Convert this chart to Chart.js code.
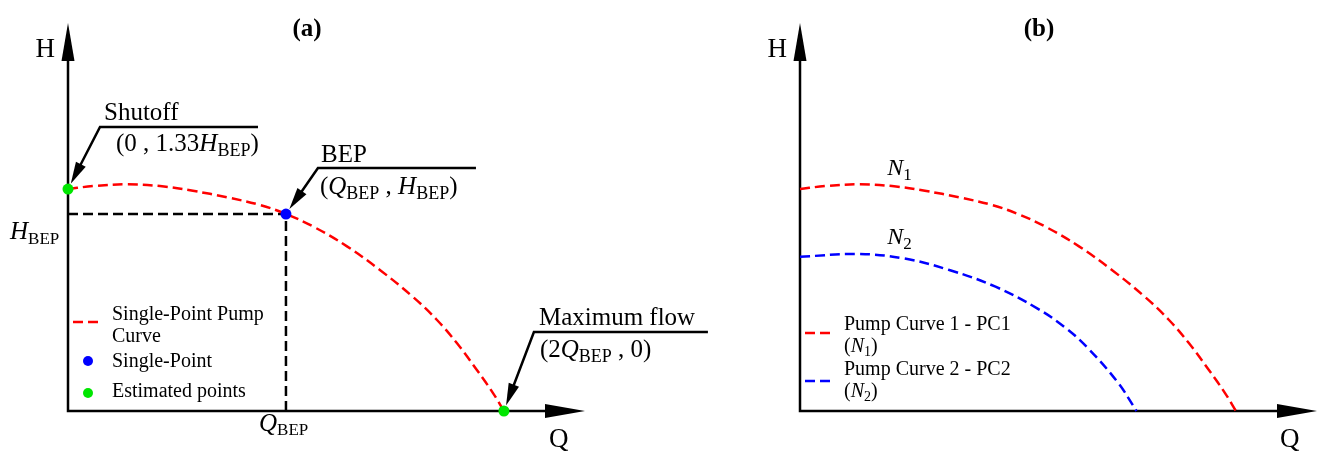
<!DOCTYPE html>
<html>
<head>
<meta charset="utf-8">
<script src="https://cdn.jsdelivr.net/npm/chart.js@4.4.1/dist/chart.umd.min.js"></script>
<style>
    html, body { margin: 0; padding: 0; background: #fff; }
    #wrap { position: relative; width: 1319px; height: 453px; }
    #boxA { position: absolute; left: 0; top: 0; width: 720px; height: 453px; }
    #boxB { position: absolute; left: 720px; top: 0; width: 599px; height: 453px; }
</style>
</head>
<body>
<div id="wrap">
    <div id="boxA"><canvas id="chartA"></canvas></div>
    <div id="boxB"><canvas id="chartB"></canvas></div>
</div>
<script>
// Q in units of Q_BEP, H in units of H_BEP
const curveQ = [0, 0.115, 0.271, 0.422, 0.573, 0.729, 0.881, 1.0, 1.124, 1.280, 1.431, 1.583, 1.693, 1.784, 1.876, 1.950, 2.0];
const curveH = [1.127, 1.142, 1.151, 1.142, 1.118, 1.085, 1.046, 1.0, 0.937, 0.836, 0.716, 0.579, 0.462, 0.345, 0.208, 0.091, 0];
const bepQ = [1];
const bepH = [1];
const estQ = [0, 2];
const estH = [1.127, 0];
// panel (b): PC1 is the same curve as in (a)
const pc1Q = curveQ;
const pc1H = curveH;
const pc2Q = [0, 0.265, 0.475, 0.685, 0.897, 1.09, 1.215, 1.316, 1.456, 1.544];
const pc2H = [0.783, 0.797, 0.775, 0.716, 0.631, 0.52, 0.425, 0.325, 0.148, 0];
const qMax = 2.372;
const hMax = 1.97;

const FONT = '"Liberation Serif", "Times New Roman", serif';
const RED = '#ff0000', BLUE = '#0000ff', GREEN = '#00e600';

function pts(xs, ys) {
    return xs.map((x, i) => ({ x: x, y: ys[i] }));
}

function runs(ctx, x, y, parts) {
    parts.forEach(p => {
        ctx.font = (p.i ? 'italic ' : '') + (p.b ? 'bold ' : '') + p.s + 'px ' + FONT;
        ctx.fillText(p.t, x, y + (p.dy || 0));
        x += ctx.measureText(p.t).width;
    });
}

function drawAxes(chart) {
    const ctx = chart.ctx, a = chart.chartArea;
    const x0 = chart.scales.x.getPixelForValue(0);
    const y0 = chart.scales.y.getPixelForValue(0);
    ctx.save();
    ctx.strokeStyle = '#000';
    ctx.fillStyle = '#000';
    ctx.lineWidth = 2.5;
    ctx.beginPath();
    ctx.moveTo(x0, y0 + 1.25);
    ctx.lineTo(x0, a.top + 30);
    ctx.moveTo(x0 - 1.25, y0);
    ctx.lineTo(a.right - 30, y0);
    ctx.stroke();
    ctx.beginPath();
    ctx.moveTo(x0, a.top);
    ctx.lineTo(x0 - 6.5, a.top + 38);
    ctx.lineTo(x0 + 6.5, a.top + 38);
    ctx.closePath();
    ctx.fill();
    ctx.beginPath();
    ctx.moveTo(a.right, y0);
    ctx.lineTo(a.right - 40, y0 - 7);
    ctx.lineTo(a.right - 40, y0 + 7);
    ctx.closePath();
    ctx.fill();
    ctx.restore();
}

function callout(ctx, px, py, ex, ey, lineEnd) {
    const dx = ex - px, dy = ey - py, len = Math.hypot(dx, dy);
    const ux = dx / len, uy = dy / len;
    const tx = px + ux * 6, ty = py + uy * 6;
    ctx.lineWidth = 2.5;
    ctx.beginPath();
    ctx.moveTo(lineEnd, ey);
    ctx.lineTo(ex, ey);
    ctx.lineTo(tx + ux * 16, ty + uy * 16);
    ctx.stroke();
    const bx = tx + ux * 22, by = ty + uy * 22;
    ctx.beginPath();
    ctx.moveTo(tx, ty);
    ctx.lineTo(bx - uy * 5.5, by + ux * 5.5);
    ctx.lineTo(bx + uy * 5.5, by - ux * 5.5);
    ctx.closePath();
    ctx.fill();
}

function axisLabels(ctx, ox, title) {
    const a = title === '(a)';
    ctx.textAlign = 'center';
    ctx.font = 'bold 25px ' + FONT;
    ctx.fillText(title, (a ? 307 : 1039) - ox, 36);
    ctx.textAlign = 'right';
    ctx.font = '27px ' + FONT;
    ctx.fillText('H', (a ? 55 : 787) - ox, 57);
    ctx.textAlign = 'left';
    ctx.fillText('Q', (a ? 549 : 1280) - ox, 447);
}

const panelA = {
    id: 'panelA',
    beforeDatasetsDraw(chart) { drawAxes(chart); },
    afterDraw(chart) {
        const ctx = chart.ctx;
        const sx = chart.scales.x, sy = chart.scales.y;
        ctx.save();
        ctx.fillStyle = '#000';
        ctx.strokeStyle = '#000';
        ctx.textBaseline = 'alphabetic';
        axisLabels(ctx, 0, '(a)');

        // callouts
        let px = sx.getPixelForValue(estQ[0]), py = sy.getPixelForValue(estH[0]);
        callout(ctx, px, py, px + 32, py - 62, px + 190);
        runs(ctx, px + 36, py - 69, [{ t: 'Shutoff', s: 25 }]);
        runs(ctx, px + 48, py - 38, [{ t: '(0 , 1.33', s: 25 }, { t: 'H', s: 25, i: true }, { t: 'BEP', s: 18, dy: 5 }, { t: ')', s: 25 }]);

        px = sx.getPixelForValue(bepQ[0]); py = sy.getPixelForValue(bepH[0]);
        callout(ctx, px, py, px + 32, py - 46, px + 190);
        runs(ctx, px + 35, py - 52, [{ t: 'BEP', s: 25 }]);
        runs(ctx, px + 34, py - 20, [{ t: '(', s: 25 }, { t: 'Q', s: 25, i: true }, { t: 'BEP', s: 18, dy: 5 }, { t: ' , ', s: 25 }, { t: 'H', s: 25, i: true }, { t: 'BEP', s: 18, dy: 5 }, { t: ')', s: 25 }]);

        px = sx.getPixelForValue(estQ[1]); py = sy.getPixelForValue(estH[1]);
        callout(ctx, px, py, px + 30, py - 79, px + 204);
        runs(ctx, px + 35, py - 86, [{ t: 'Maximum flow', s: 25 }]);
        runs(ctx, px + 36, py - 54, [{ t: '(2', s: 25 }, { t: 'Q', s: 25, i: true }, { t: 'BEP', s: 18, dy: 5 }, { t: ' , 0)', s: 25 }]);

        // axis value labels
        runs(ctx, 10, 239, [{ t: 'H', s: 25, i: true }, { t: 'BEP', s: 17, dy: 5 }]);
        runs(ctx, 259, 431, [{ t: 'Q', s: 25, i: true }, { t: 'BEP', s: 17, dy: 4 }]);

        // legend
        ctx.strokeStyle = RED;
        ctx.lineWidth = 2.5;
        ctx.setLineDash([10, 5]);
        ctx.beginPath();
        ctx.moveTo(73, 322);
        ctx.lineTo(103, 322);
        ctx.stroke();
        ctx.setLineDash([]);
        ctx.fillStyle = BLUE;
        ctx.beginPath(); ctx.arc(88, 361, 5, 0, Math.PI * 2); ctx.fill();
        ctx.fillStyle = GREEN;
        ctx.beginPath(); ctx.arc(88, 393, 5, 0, Math.PI * 2); ctx.fill();
        ctx.fillStyle = '#000';
        runs(ctx, 112, 320, [{ t: 'Single-Point Pump', s: 20 }]);
        runs(ctx, 112, 342, [{ t: 'Curve', s: 20 }]);
        runs(ctx, 112, 367, [{ t: 'Single-Point', s: 20 }]);
        runs(ctx, 112, 397, [{ t: 'Estimated points', s: 20 }]);
        ctx.restore();
    }
};

const panelB = {
    id: 'panelB',
    beforeDatasetsDraw(chart) { drawAxes(chart); },
    afterDraw(chart) {
        const ctx = chart.ctx;
        const ox = 720;
        const sx = chart.scales.x, sy = chart.scales.y;
        ctx.save();
        ctx.fillStyle = '#000';
        ctx.textBaseline = 'alphabetic';
        axisLabels(ctx, ox, '(b)');

        // curve labels, placed above the curves
        runs(ctx, sx.getPixelForValue(0.40), sy.getPixelForValue(pc1H[2]) - 9, [{ t: 'N', s: 24, i: true }, { t: '1', s: 17, dy: 5 }]);
        runs(ctx, sx.getPixelForValue(0.40), sy.getPixelForValue(pc2H[1]) - 10, [{ t: 'N', s: 24, i: true }, { t: '2', s: 17, dy: 5 }]);

        // legend
        ctx.lineWidth = 2.5;
        ctx.setLineDash([10, 5]);
        ctx.strokeStyle = RED;
        ctx.beginPath(); ctx.moveTo(805 - ox, 333); ctx.lineTo(835 - ox, 333); ctx.stroke();
        ctx.strokeStyle = BLUE;
        ctx.beginPath(); ctx.moveTo(805 - ox, 381); ctx.lineTo(835 - ox, 381); ctx.stroke();
        ctx.setLineDash([]);
        runs(ctx, 844 - ox, 330, [{ t: 'Pump Curve 1 - PC1', s: 20 }]);
        runs(ctx, 844 - ox, 352, [{ t: '(', s: 20 }, { t: 'N', s: 20, i: true }, { t: '1', s: 14, dy: 4 }, { t: ')', s: 20 }]);
        runs(ctx, 844 - ox, 375, [{ t: 'Pump Curve 2 - PC2', s: 20 }]);
        runs(ctx, 844 - ox, 397, [{ t: '(', s: 20 }, { t: 'N', s: 20, i: true }, { t: '2', s: 14, dy: 4 }, { t: ')', s: 20 }]);
        ctx.restore();
    }
};

function baseOptions(padding) {
    return {
        responsive: true,
        maintainAspectRatio: false,
        animation: false,
        layout: { padding: padding },
        plugins: { legend: { display: false }, tooltip: { enabled: false } },
        scales: {
            x: { type: 'linear', min: 0, max: qMax, display: false },
            y: { type: 'linear', min: 0, max: hMax, display: false }
        }
    };
}

new Chart(document.getElementById('chartA'), {
    type: 'line',
    data: {
        datasets: [
            {
                label: 'Single-Point',
                data: pts(bepQ, bepH),
                showLine: false,
                pointRadius: 5.5,
                pointBackgroundColor: BLUE,
                pointBorderWidth: 0,
                clip: false
            },
            {
                label: 'Estimated points',
                data: pts(estQ, estH),
                showLine: false,
                pointRadius: 5.5,
                pointBackgroundColor: GREEN,
                pointBorderWidth: 0,
                clip: false
            },
            {
                label: 'Single-Point Pump Curve',
                data: pts(curveQ, curveH),
                borderColor: RED,
                borderWidth: 2.5,
                borderDash: [10, 5],
                pointRadius: 0,
                tension: 0.4,
                fill: false,
                clip: false
            },
            {
                label: 'BEP guide',
                data: [{ x: 0, y: bepH[0] }, { x: bepQ[0], y: bepH[0] }, { x: bepQ[0], y: 0 }],
                borderColor: '#000',
                borderWidth: 2.5,
                borderDash: [10, 5],
                pointRadius: 0,
                tension: 0,
                fill: false,
                clip: false
            }
        ]
    },
    options: baseOptions({ left: 68, right: 135, top: 23, bottom: 42 }),
    plugins: [panelA]
});

new Chart(document.getElementById('chartB'), {
    type: 'line',
    data: {
        datasets: [
            {
                label: 'Pump Curve 1 - PC1 (N1)',
                data: pts(pc1Q, pc1H),
                borderColor: RED,
                borderWidth: 2.5,
                borderDash: [10, 5],
                pointRadius: 0,
                tension: 0.4,
                fill: false,
                clip: false
            },
            {
                label: 'Pump Curve 2 - PC2 (N2)',
                data: pts(pc2Q, pc2H),
                borderColor: BLUE,
                borderWidth: 2.5,
                borderDash: [10, 5],
                pointRadius: 0,
                tension: 0.4,
                fill: false,
                clip: false
            }
        ]
    },
    options: baseOptions({ left: 80, right: 2, top: 23, bottom: 42 }),
    plugins: [panelB]
});
</script>
</body>
</html>
